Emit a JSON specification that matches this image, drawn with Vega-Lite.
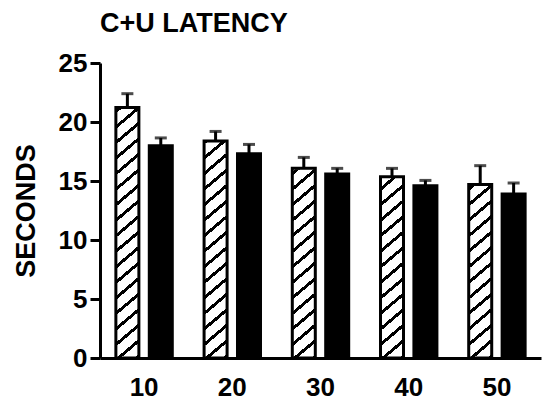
{
  "$schema": "https://vega.github.io/schema/vega-lite/v6.json",
  "width": 441,
  "height": 295,
  "autosize": "none",
  "padding": {"left": 100, "top": 63, "right": 2, "bottom": 43},
  "background": "white",
  "title": {"text": "C+U LATENCY", "anchor": "start", "frame": "group", "fontSize": 27, "font": "Liberation Sans", "fontWeight": "bold", "color": "black", "offset": -9, "baseline": "alphabetic"},
  "data": {"values": [
    {"dose": "10", "group": "hatched", "mean": 21.23, "upper": 22.4},
    {"dose": "10", "group": "solid", "mean": 17.98, "upper": 18.65},
    {"dose": "20", "group": "hatched", "mean": 18.4, "upper": 19.2},
    {"dose": "20", "group": "solid", "mean": 17.3, "upper": 18.1},
    {"dose": "30", "group": "hatched", "mean": 16.07, "upper": 17.0},
    {"dose": "30", "group": "solid", "mean": 15.6, "upper": 16.07},
    {"dose": "40", "group": "hatched", "mean": 15.36, "upper": 16.07},
    {"dose": "40", "group": "solid", "mean": 14.6, "upper": 15.05},
    {"dose": "50", "group": "hatched", "mean": 14.7, "upper": 16.3},
    {"dose": "50", "group": "solid", "mean": 13.9, "upper": 14.83}
  ]},
  "encoding": {
    "x": {"field": "dose", "type": "nominal", "sort": ["10", "20", "30", "40", "50"], "scale": {"paddingInner": 0.3605, "paddingOuter": 0.18}, "title": null},
    "xOffset": {"field": "group", "type": "nominal", "scale": {"domain": ["hatched", "solid"], "paddingInner": 0.3114, "paddingOuter": 0}}
  },
  "layer": [
    {
      "transform": [{"filter": "datum.group === 'hatched'"}],
      "mark": {"type": "bar", "stroke": null, "fill": {"gradient": "linear", "x1": 0, "y1": 0, "x2": 0.0709, "y2": 1.07, "stops": [
        {"offset": 0, "color": "black"}, {"offset": 0.0125, "color": "black"}, {"offset": 0.0125, "color": "white"}, {"offset": 0.049, "color": "white"},
        {"offset": 0.049, "color": "black"}, {"offset": 0.0615, "color": "black"}, {"offset": 0.0615, "color": "white"}, {"offset": 0.098, "color": "white"},
        {"offset": 0.098, "color": "black"}, {"offset": 0.1105, "color": "black"}, {"offset": 0.1105, "color": "white"}, {"offset": 0.147, "color": "white"},
        {"offset": 0.147, "color": "black"}, {"offset": 0.1595, "color": "black"}, {"offset": 0.1595, "color": "white"}, {"offset": 0.196, "color": "white"},
        {"offset": 0.196, "color": "black"}, {"offset": 0.2085, "color": "black"}, {"offset": 0.2085, "color": "white"}, {"offset": 0.245, "color": "white"},
        {"offset": 0.245, "color": "black"}, {"offset": 0.2575, "color": "black"}, {"offset": 0.2575, "color": "white"}, {"offset": 0.294, "color": "white"},
        {"offset": 0.294, "color": "black"}, {"offset": 0.3065, "color": "black"}, {"offset": 0.3065, "color": "white"}, {"offset": 0.343, "color": "white"},
        {"offset": 0.343, "color": "black"}, {"offset": 0.3555, "color": "black"}, {"offset": 0.3555, "color": "white"}, {"offset": 0.392, "color": "white"},
        {"offset": 0.392, "color": "black"}, {"offset": 0.4045, "color": "black"}, {"offset": 0.4045, "color": "white"}, {"offset": 0.441, "color": "white"},
        {"offset": 0.441, "color": "black"}, {"offset": 0.4535, "color": "black"}, {"offset": 0.4535, "color": "white"}, {"offset": 0.49, "color": "white"},
        {"offset": 0.49, "color": "black"}, {"offset": 0.5025, "color": "black"}, {"offset": 0.5025, "color": "white"}, {"offset": 0.539, "color": "white"},
        {"offset": 0.539, "color": "black"}, {"offset": 0.5515, "color": "black"}, {"offset": 0.5515, "color": "white"}, {"offset": 0.588, "color": "white"},
        {"offset": 0.588, "color": "black"}, {"offset": 0.6005, "color": "black"}, {"offset": 0.6005, "color": "white"}, {"offset": 0.637, "color": "white"},
        {"offset": 0.637, "color": "black"}, {"offset": 0.6495, "color": "black"}, {"offset": 0.6495, "color": "white"}, {"offset": 0.686, "color": "white"},
        {"offset": 0.686, "color": "black"}, {"offset": 0.6985, "color": "black"}, {"offset": 0.6985, "color": "white"}, {"offset": 0.735, "color": "white"},
        {"offset": 0.735, "color": "black"}, {"offset": 0.7475, "color": "black"}, {"offset": 0.7475, "color": "white"}, {"offset": 0.784, "color": "white"},
        {"offset": 0.784, "color": "black"}, {"offset": 0.7965, "color": "black"}, {"offset": 0.7965, "color": "white"}, {"offset": 0.833, "color": "white"},
        {"offset": 0.833, "color": "black"}, {"offset": 0.8455, "color": "black"}, {"offset": 0.8455, "color": "white"}, {"offset": 0.882, "color": "white"},
        {"offset": 0.882, "color": "black"}, {"offset": 0.8945, "color": "black"}, {"offset": 0.8945, "color": "white"}, {"offset": 0.931, "color": "white"},
        {"offset": 0.931, "color": "black"}, {"offset": 0.9435, "color": "black"}, {"offset": 0.9435, "color": "white"}, {"offset": 0.98, "color": "white"},
        {"offset": 0.98, "color": "black"}, {"offset": 0.9925, "color": "black"}, {"offset": 0.9925, "color": "white"}, {"offset": 1, "color": "white"}
      ]}},
      "encoding": {
        "y": {"datum": 25, "type": "quantitative", "scale": {"domain": [0, 25]}, "title": "SECONDS"},
        "y2": {"datum": 0}
      }
    },
    {
      "transform": [{"filter": "datum.group === 'hatched'"}],
      "mark": {"type": "bar", "fill": "white", "stroke": "white", "strokeWidth": 2},
      "encoding": {
        "y": {"field": "mean", "type": "quantitative", "scale": {"domain": [0, 25]}, "title": "SECONDS"},
        "y2": {"datum": 25}
      }
    },
    {
      "mark": {"type": "bar", "stroke": "black", "strokeWidth": 3},
      "encoding": {
        "y": {"field": "mean", "type": "quantitative", "scale": {"domain": [0, 25]}, "title": "SECONDS"},
        "fill": {"field": "group", "type": "nominal", "scale": {"domain": ["hatched", "solid"], "range": ["transparent", "black"]}, "legend": null}
      }
    },
    {
      "mark": {"type": "rule", "color": "black", "strokeWidth": 3},
      "encoding": {
        "y": {"field": "mean", "type": "quantitative", "scale": {"domain": [0, 25]}, "title": "SECONDS"},
        "y2": {"field": "upper"}
      }
    },
    {
      "mark": {"type": "tick", "orient": "horizontal", "size": 12, "thickness": 3, "color": "black"},
      "encoding": {
        "y": {"field": "upper", "type": "quantitative", "scale": {"domain": [0, 25]}, "title": "SECONDS"}
      }
    }
  ],
  "config": {
    "view": {"stroke": null},
    "axisY": {"domainColor": "black", "domainWidth": 3, "tickColor": "black", "tickWidth": 3, "tickSize": 10, "tickCount": 5, "labelFont": "Liberation Sans", "labelFontSize": 26, "labelFontWeight": "bold", "labelColor": "black", "labelPadding": 3, "grid": false, "titleFont": "Liberation Sans", "titleFontSize": 27, "titleFontWeight": "bold", "titleColor": "black", "titlePadding": 18},
    "axisX": {"domainColor": "black", "domainWidth": 3, "ticks": false, "tickSize": 0, "labelFont": "Liberation Sans", "labelFontSize": 26, "labelFontWeight": "bold", "labelColor": "black", "labelPadding": 16, "labelAngle": 0, "grid": false}
  }
}
